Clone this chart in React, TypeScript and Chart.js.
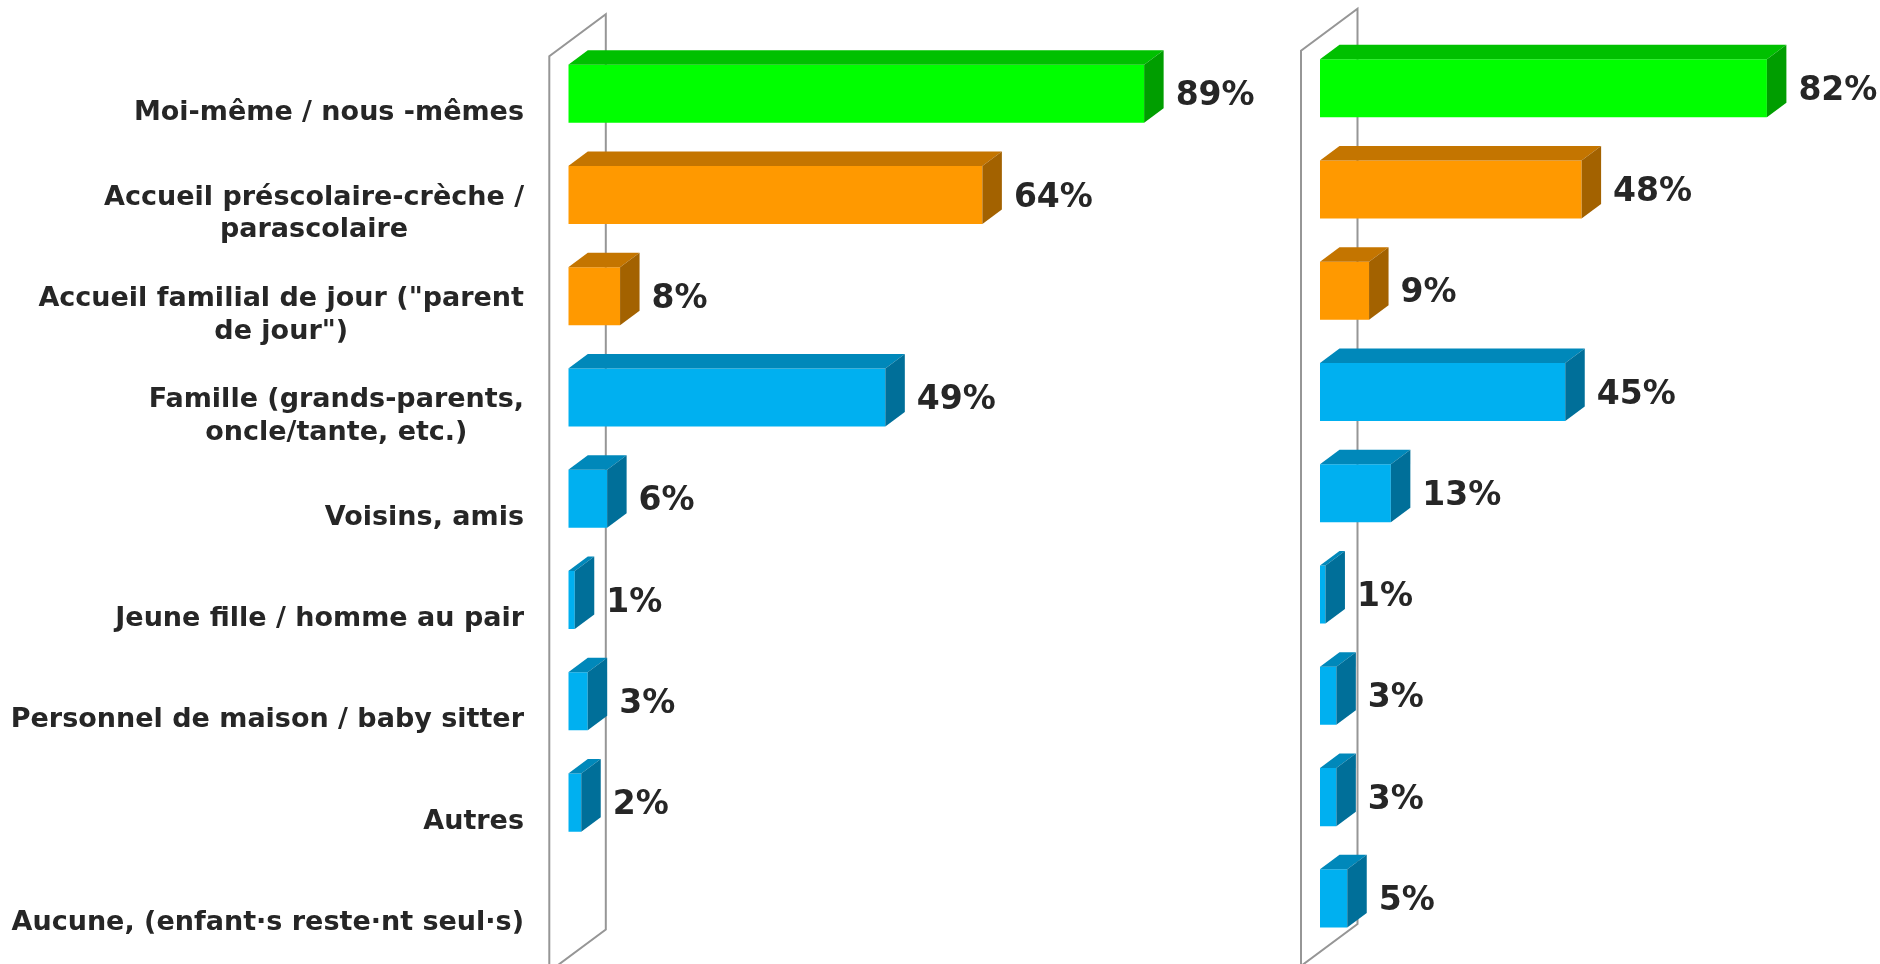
import React, { useEffect, useRef } from "react";
import { Chart, registerables } from "chart.js";

Chart.register(...registerables);

// ---------- data ----------
const categories: (string | string[])[] = [
  "Moi-même / nous -mêmes",
  ["Accueil préscolaire-crèche /", "parascolaire"],
  ['Accueil familial de jour ("parent', 'de jour")'],
  ["Famille (grands-parents,", "oncle/tante, etc.)"],
  "Voisins, amis",
  "Jeune fille / homme au pair",
  "Personnel de maison / baby sitter",
  "Autres",
  "Aucune, (enfant·s reste·nt seul·s)",
];

const leftValues: (number | null)[] = [89, 64, 8, 49, 6, 1, 3, 2, null];
const rightValues: (number | null)[] = [82, 48, 9, 45, 13, 1, 3, 3, 5];

const categoryGroups = [
  "self",
  "institution",
  "institution",
  "private",
  "private",
  "private",
  "private",
  "private",
  "private",
];

const axisMin = 0;
const axisMax = 100;

// ---------- styles ----------
const palette: Record<string, { front: string; top: string; side: string }> = {
  self: { front: "#00FF00", top: "#00C000", side: "#009E00" },
  institution: { front: "#FF9900", top: "#C47500", side: "#A36200" },
  private: { front: "#00B0F0", top: "#0088BA", side: "#006F99" },
};

const TEXT_COLOR = "#262626";
const FONT = '"DejaVu Sans", Verdana, sans-serif';
const DX = 19.5;
const DY = 14.5;

function makePlugin(showCategoryLabels: boolean) {
  return {
    id: "bar3d",
    beforeDatasetsDraw(chart: any) {
      const { ctx, chartArea } = chart;
      const L = chartArea.left;
      const T = chartArea.top;
      const B = chartArea.bottom;
      const frontX = L - 19;
      const backX = L + 37.5;
      const backTop = T - 29;
      const backBottom = B - 25;
      const wallDY = 42;
      ctx.save();
      ctx.strokeStyle = "#969696";
      ctx.lineWidth = 2;
      ctx.beginPath();
      ctx.moveTo(frontX, backBottom + wallDY);
      ctx.lineTo(frontX, backTop + wallDY);
      ctx.lineTo(backX, backTop);
      ctx.lineTo(backX, backBottom);
      ctx.closePath();
      ctx.stroke();
      ctx.restore();
    },
    afterDatasetsDraw(chart: any) {
      const { ctx } = chart;
      const meta = chart.getDatasetMeta(0);
      const data = chart.data.datasets[0].data;
      ctx.save();
      meta.data.forEach((el: any, i: number) => {
        const v = data[i];
        if (v == null) return;
        const { x, y, base, height } = el.getProps(["x", "y", "base", "height"], true);
        const top = y - height / 2;
        const bottom = y + height / 2;
        const c = palette[categoryGroups[i]];
        ctx.fillStyle = c.top;
        ctx.beginPath();
        ctx.moveTo(base, top);
        ctx.lineTo(base + DX, top - DY);
        ctx.lineTo(x + DX, top - DY);
        ctx.lineTo(x, top);
        ctx.closePath();
        ctx.fill();
        ctx.fillStyle = c.side;
        ctx.beginPath();
        ctx.moveTo(x, top);
        ctx.lineTo(x + DX, top - DY);
        ctx.lineTo(x + DX, bottom - DY);
        ctx.lineTo(x, bottom);
        ctx.closePath();
        ctx.fill();
        // value label
        ctx.fillStyle = TEXT_COLOR;
        ctx.font = `bold 33px ${FONT}`;
        ctx.textAlign = "left";
        ctx.textBaseline = "middle";
        ctx.fillText(`${v}%`, x + DX + 12, y + 3);
      });
      ctx.restore();
    },
    afterDraw(chart: any) {
      if (!showCategoryLabels) return;
      const { ctx } = chart;
      const yScale = chart.scales.y;
      const rightEdge = 524;
      const lineH = 32.4;
      ctx.save();
      ctx.fillStyle = TEXT_COLOR;
      ctx.font = `bold 27px ${FONT}`;
      ctx.textAlign = "center";
      ctx.textBaseline = "middle";
      categories.forEach((lab, i) => {
        const lines = Array.isArray(lab) ? lab : [lab];
        const w = Math.max(...lines.map((l) => ctx.measureText(l).width));
        const cx = rightEdge - w / 2;
        const cy = yScale.getPixelForValue(i) + 19;
        lines.forEach((l, k) => {
          const ly = cy + (k - (lines.length - 1) / 2) * lineH;
          ctx.fillText(l, cx, ly);
        });
      });
      ctx.restore();
    },
  };
}

function buildChart(
  canvas: HTMLCanvasElement,
  values: (number | null)[],
  padding: { left: number; right: number; top: number; bottom: number },
  showCategoryLabels: boolean
) {
  return new Chart(canvas, {
    type: "bar",
    data: {
      labels: categories.map((c) => (Array.isArray(c) ? c.join(" ") : c)),
      datasets: [
        {
          data: values,
          backgroundColor: categoryGroups.map((g) => palette[g].front),
          borderWidth: 0,
          barPercentage: 0.573,
          categoryPercentage: 1,
        },
      ],
    },
    options: {
      indexAxis: "y",
      animation: false,
      responsive: false,
      devicePixelRatio: 1,
      layout: { padding },
      plugins: {
        legend: { display: false },
        tooltip: { enabled: false },
      },
      scales: {
        x: { display: false, min: axisMin, max: axisMax },
        y: { display: false, type: "category" },
      },
    },
    plugins: [makePlugin(showCategoryLabels) as any],
  });
}

export default function App() {
  const leftRef = useRef<HTMLCanvasElement>(null);
  const rightRef = useRef<HTMLCanvasElement>(null);

  useEffect(() => {
    const a = buildChart(
      leftRef.current!,
      leftValues,
      { left: 568.3, right: 74.7, top: 43.2, bottom: 9.5 },
      true
    );
    const b = buildChart(
      rightRef.current!,
      rightValues,
      { left: 30, right: 15, top: 37.7, bottom: 15 },
      false
    );
    return () => {
      a.destroy();
      b.destroy();
    };
  }, []);

  return (
    <div
      style={{
        position: "absolute",
        left: 0,
        top: 0,
        width: 1880,
        height: 964,
        overflow: "hidden",
        background: "#ffffff",
      }}
    >
      <canvas
        ref={leftRef}
        width={1290}
        height={964}
        style={{ position: "absolute", left: 0, top: 0, width: 1290, height: 964 }}
      />
      <canvas
        ref={rightRef}
        width={590}
        height={964}
        style={{ position: "absolute", left: 1290, top: 0, width: 590, height: 964 }}
      />
    </div>
  );
}
